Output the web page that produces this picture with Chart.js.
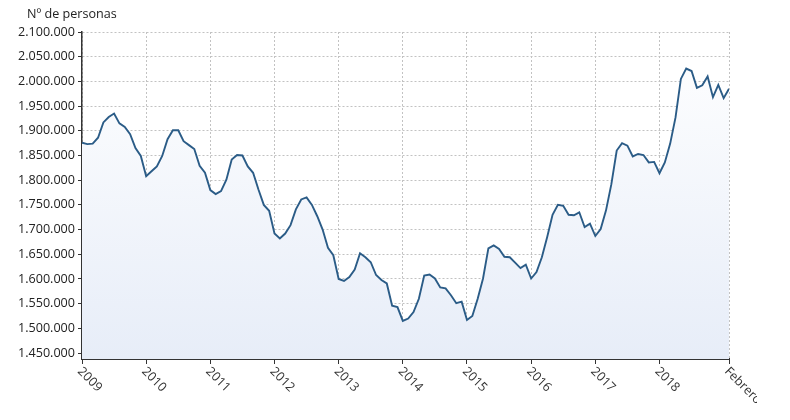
<!DOCTYPE html>
<html>
<head>
<meta charset="utf-8">
<script src="https://cdn.jsdelivr.net/npm/chart.js@4"></script>
<style>
  html, body { margin: 0; padding: 0; background: #fff; }
  #wrap { width: 790px; height: 420px; }
</style>
</head>
<body>
<div id="wrap"><canvas id="myChart" width="790" height="420"></canvas></div>
<script>
// monthly values (persons), January to December of each year
const y2009 = [1876000, 1873000, 1874000, 1886000, 1917000, 1928000, 1935000, 1915000, 1908000, 1893000, 1865000, 1849000];
const y2010 = [1808000, 1818000, 1828000, 1849000, 1883000, 1901000, 1901000, 1879000, 1871000, 1863000, 1829000, 1815000];
const y2011 = [1780000, 1772000, 1778000, 1801000, 1842000, 1851000, 1850000, 1828000, 1815000, 1781000, 1750000, 1738000];
const y2012 = [1692000, 1682000, 1692000, 1709000, 1741000, 1761000, 1765000, 1750000, 1727000, 1700000, 1663000, 1648000];
const y2013 = [1600000, 1596000, 1604000, 1619000, 1652000, 1644000, 1634000, 1608000, 1598000, 1591000, 1546000, 1543000];
const y2014 = [1515000, 1520000, 1533000, 1560000, 1607000, 1609000, 1601000, 1583000, 1581000, 1567000, 1551000, 1554000];
const y2015 = [1517000, 1525000, 1560000, 1601000, 1662000, 1668000, 1661000, 1645000, 1644000, 1633000, 1622000, 1629000];
const y2016 = [1601000, 1614000, 1644000, 1685000, 1730000, 1750000, 1748000, 1730000, 1729000, 1735000, 1705000, 1712000];
const y2017 = [1687000, 1701000, 1739000, 1792000, 1860000, 1875000, 1870000, 1848000, 1853000, 1851000, 1836000, 1837000];
const y2018 = [1814000, 1836000, 1874000, 1927000, 2005000, 2026000, 2021000, 1987000, 1992000, 2010000, 1968000, 1993000];
const y2019 = [1966000, 1985000];

const tickLabels = ["2009", "2010", "2011", "2012", "2013", "2014", "2015", "2016", "2017", "2018", "Febrero"];
const tickMonths = [0, 12, 24, 36, 48, 60, 72, 84, 96, 108, 121];
const yTicks = [1450000, 1500000, 1550000, 1600000, 1650000, 1700000, 1750000, 1800000,
                1850000, 1900000, 1950000, 2000000, 2050000, 2100000];

const values = [].concat(y2009, y2010, y2011, y2012, y2013, y2014, y2015, y2016, y2017, y2018, y2019);
const points = values.map((v, i) => ({ x: i, y: v }));

const FONT = "'Open Sans', 'Noto Sans', sans-serif";
const FSIZE = 12.6;

function miles(v) {
  return String(v).replace(/\B(?=(\d{3})+(?!\d))/g, ".");
}

// year labels are drawn rotated downwards to the right, like the original
const extraText = {
  id: "extraText",
  afterDraw(chart) {
    const ctx = chart.ctx;
    const xs = chart.scales.x;
    ctx.save();
    // the original cuts the last label short
    ctx.beginPath();
    ctx.rect(0, 0, 757, chart.height);
    ctx.clip();
    ctx.fillStyle = "#333";
    ctx.font = FSIZE + "px " + FONT;
    ctx.textAlign = "left";
    ctx.textBaseline = "top";
    xs.ticks.forEach((t, i) => {
      const px = xs.getPixelForValue(t.value);
      ctx.save();
      ctx.translate(px + 2, chart.chartArea.bottom + 6);
      ctx.rotate(Math.PI / 4);
      ctx.fillText(tickLabels[i], 0, 0);
      ctx.restore();
    });
    // axis title
    ctx.textBaseline = "middle";
    ctx.fillStyle = "#222";
    ctx.fillText("Nº de personas", 27, 14);
    ctx.restore();
  }
};

const config = {
  type: "line",
  data: {
    datasets: [{
      label: "Nº de personas",
      data: points,
      borderColor: "#2b5c87",
      borderWidth: 1.9,
      pointRadius: 0,
      tension: 0,
      fill: "start",
      backgroundColor: function (c) {
        const area = c.chart.chartArea;
        if (!area) return "rgba(232,238,248,0.6)";
        const g = c.chart.ctx.createLinearGradient(0, area.top, 0, area.bottom);
        g.addColorStop(0, "rgba(255,255,255,1)");
        g.addColorStop(1, "rgba(231,237,248,1)");
        return g;
      }
    }]
  },
  options: {
    responsive: false,
    animation: false,
    layout: { padding: { top: 32, right: 61, left: 0, bottom: 0 } },
    plugins: {
      legend: { display: false },
      tooltip: { enabled: false }
    },
    scales: {
      x: {
        type: "linear",
        min: 0,
        max: 121,
        afterBuildTicks: (s) => { s.ticks = tickMonths.map(v => ({ value: v })); },
        afterFit: (s) => { s.height = 61; },
        ticks: { display: false },
        grid: {
          color: "#c2c2c2",
          lineWidth: 1,
          tickColor: "#333",
          tickLength: 5,
          drawTicks: true
        },
        border: { color: "#333", width: 2, dash: [2, 2] }
      },
      y: {
        min: 1438000,
        max: 2100000,
        afterBuildTicks: (s) => { s.ticks = yTicks.map(v => ({ value: v })); },
        afterFit: (s) => { s.width = 82; },
        ticks: {
          color: "#222",
          padding: 3,
          font: { family: FONT, size: FSIZE },
          callback: (v) => miles(v)
        },
        grid: {
          color: "#c2c2c2",
          lineWidth: 1,
          tickColor: "#333",
          tickLength: 4
        },
        border: { color: "#333", width: 1.5, dash: [2, 2] }
      }
    }
  },
  plugins: [extraText]
};

const myChart = new Chart(document.getElementById("myChart"), config);
</script>
</body>
</html>
